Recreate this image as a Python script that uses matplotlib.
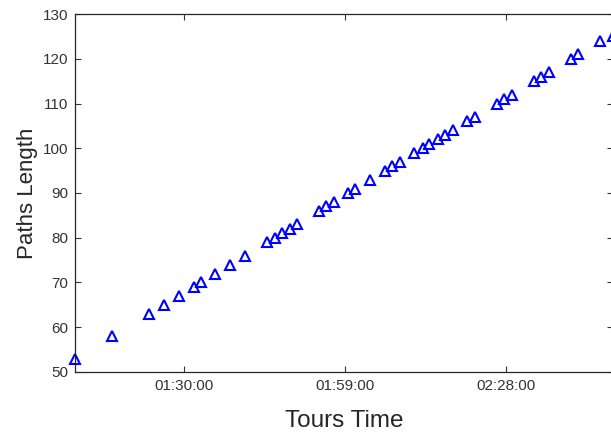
import pandas as pd
import matplotlib
matplotlib.use("Agg")
import matplotlib.pyplot as plt
import matplotlib.dates as mdates

plt.rcParams['font.family'] = ['Liberation Sans', 'DejaVu Sans']

# tour end times (hh:mm:ss) and the path length reached at that time
tour_times = [
    "01:10:19", "01:17:00", "01:23:41", "01:26:23", "01:29:06", "01:31:49",
    "01:33:04", "01:35:36", "01:38:18", "01:41:01", "01:44:59", "01:46:26",
    "01:47:41", "01:49:08", "01:50:24", "01:54:22", "01:55:38", "01:57:05",
    "01:59:36", "02:00:52", "02:03:34", "02:06:17", "02:07:33", "02:08:59",
    "02:11:31", "02:12:58", "02:14:13", "02:15:40", "02:16:56", "02:18:23",
    "02:20:54", "02:22:21", "02:26:19", "02:27:35", "02:29:02", "02:33:00",
    "02:34:16", "02:35:42", "02:39:41", "02:40:56", "02:44:55", "02:47:16",
]
path_lengths = [
    53, 58, 63, 65, 67, 69, 70, 72, 74, 76, 79, 80, 81, 82, 83, 86, 87, 88,
    90, 91, 93, 95, 96, 97, 99, 100, 101, 102, 103, 104, 106, 107, 110, 111,
    112, 115, 116, 117, 120, 121, 124, 125,
]
x_ticks = ["01:30:00", "01:59:00", "02:28:00"]
y_ticks = [50, 60, 70, 80, 90, 100, 110, 120, 130]

day = "2020-01-01 "
times = pd.to_datetime([day + t for t in tour_times])
tick_times = pd.to_datetime([day + t for t in x_ticks])

fig = plt.figure(figsize=(6.11, 4.34), dpi=100)
ax = fig.add_axes([0.1227, 0.1429, 0.8803, 0.8248])

ax.plot(times, path_lengths, linestyle='none', marker='^', markersize=7.5,
        markerfacecolor='none', markeredgecolor='#0000ff', markeredgewidth=1.5,
        clip_on=False)

ax.set_xlim(times[0], times[-1])
ax.set_ylim(50, 130)
ax.set_xticks(tick_times)
ax.xaxis.set_major_formatter(mdates.DateFormatter('%H:%M:%S'))
ax.set_yticks(y_ticks)

ax.tick_params(direction='in', top=True, right=True, length=4, width=0.8,
               colors='#333333', labelsize=11, pad=5)
for s in ax.spines.values():
    s.set_color('#262626')
    s.set_linewidth(0.9)

ax.set_xlabel('Tours Time', fontsize=17.5, color='#262626', labelpad=12)
ax.set_ylabel('Paths Length', fontsize=16, color='#262626', labelpad=3)

fig.savefig('out.png', dpi=100)
